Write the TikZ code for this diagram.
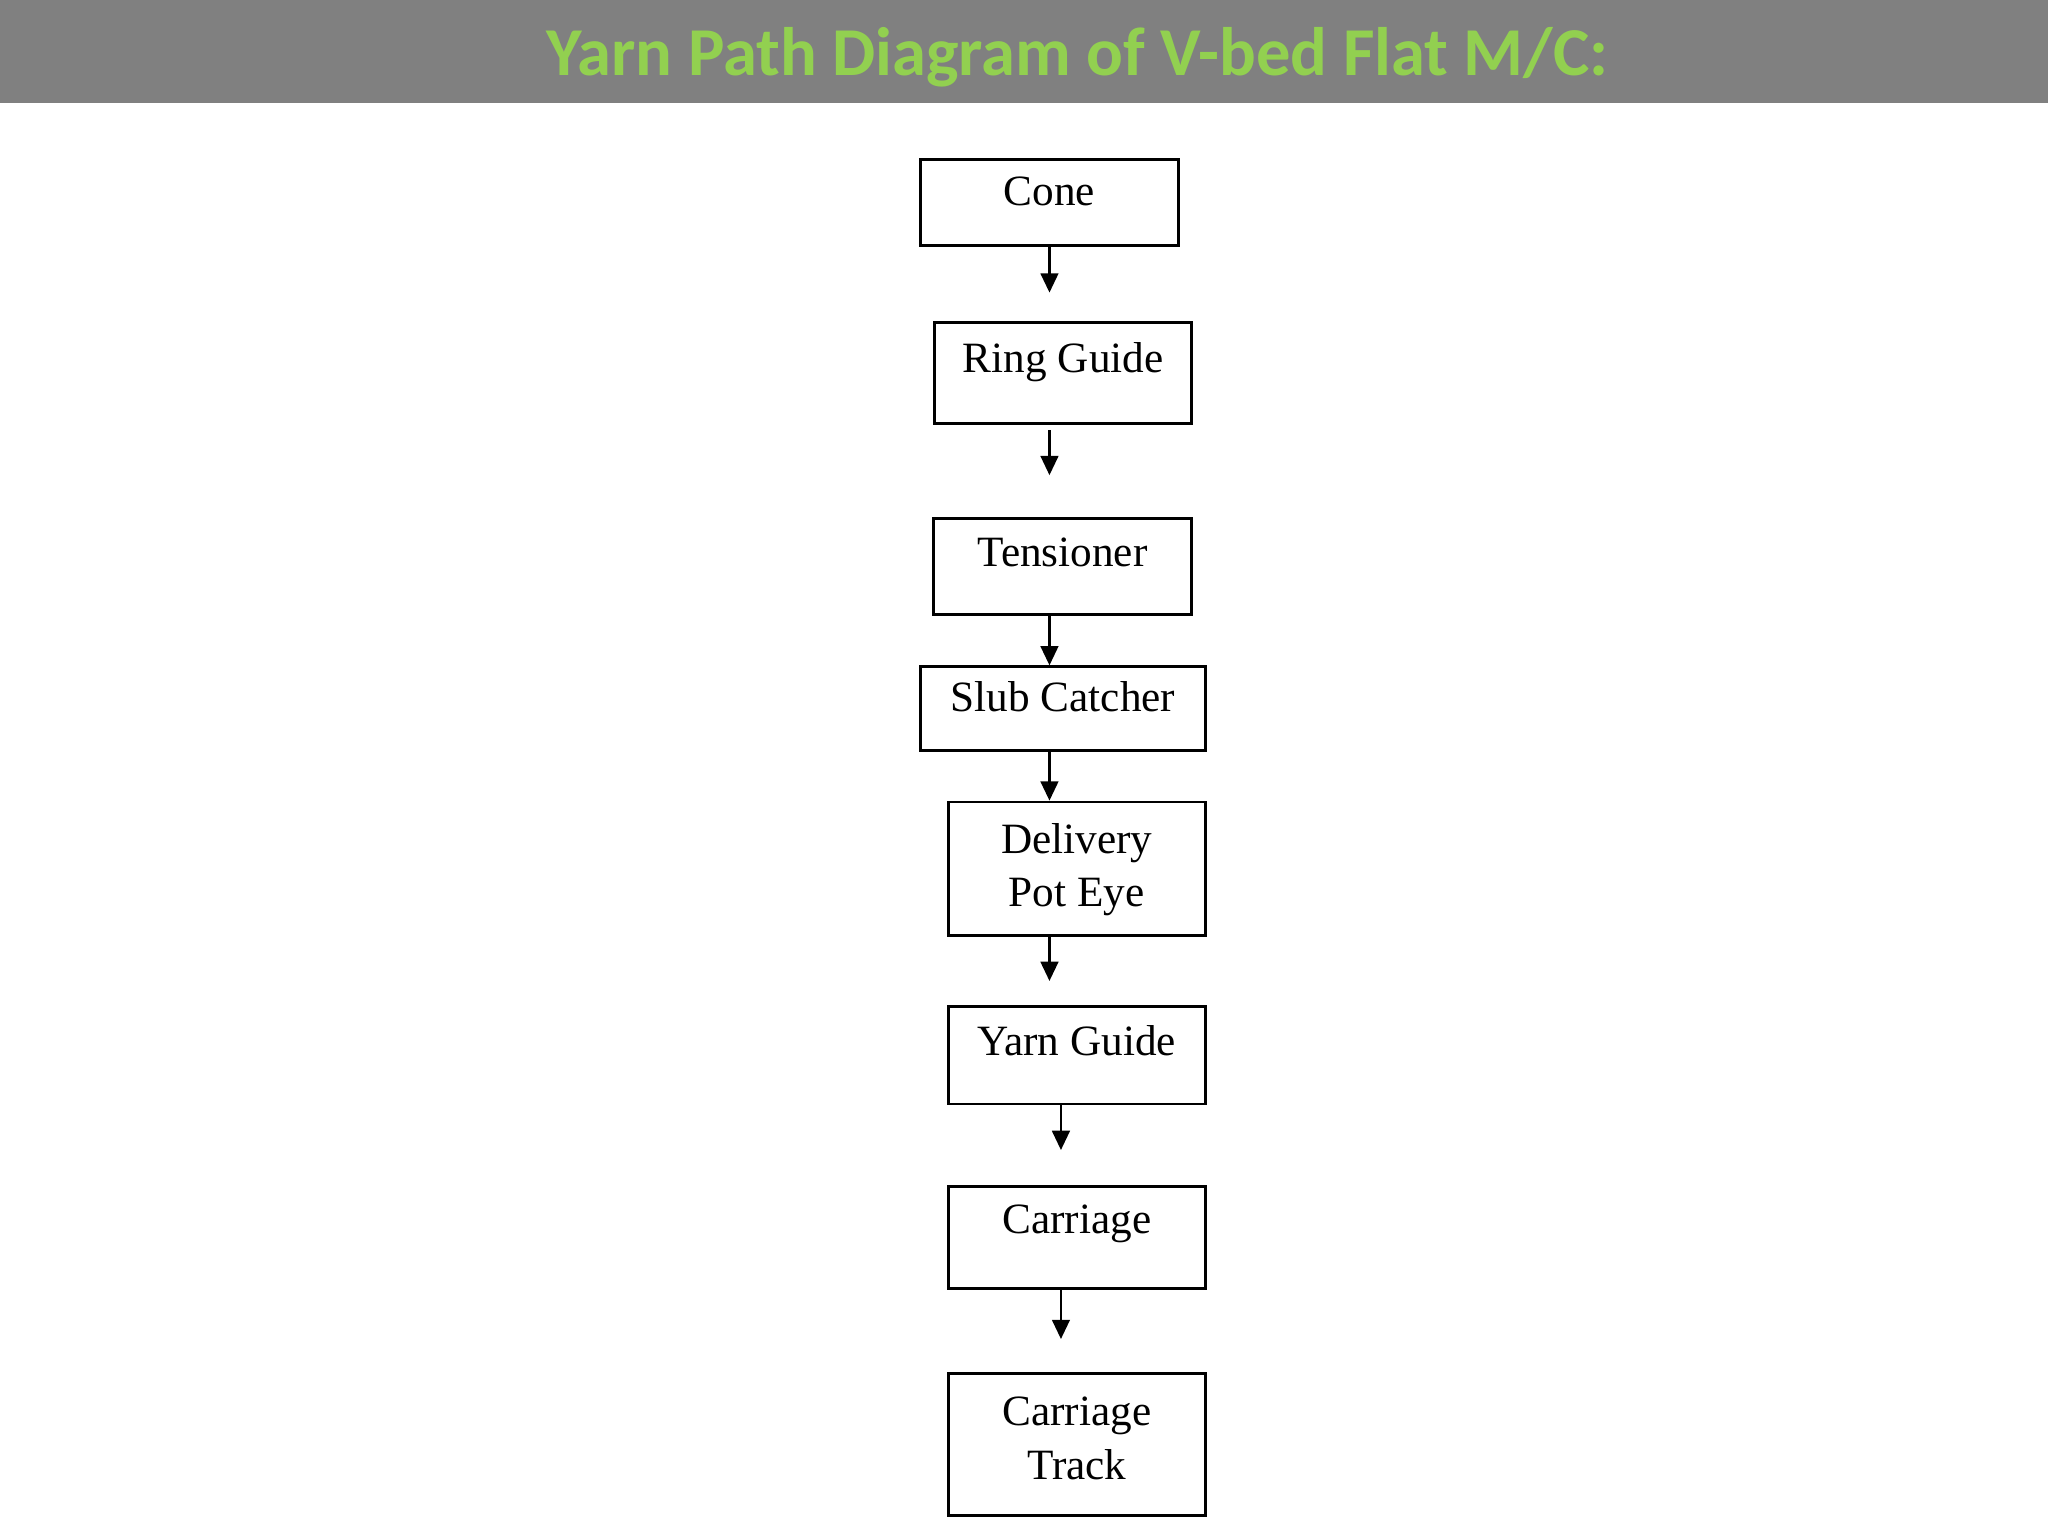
\documentclass[tikz,border=0pt]{standalone}
\usepackage{fontspec}
\setmainfont{Liberation Serif}
\newfontfamily\titlefont{Carlito}
\usetikzlibrary{arrows.meta}
\definecolor{bandgray}{HTML}{808080}
\definecolor{titlegreen}{HTML}{92D050}
\tikzset{
  stage/.style={draw, line width=0.8pt, inner xsep=0pt, inner ysep=0pt, align=center, anchor=base,
    font=\fontsize{12.3}{15.2}\selectfont},
  flow/.style={-{Triangle[length=5.5pt,width=5pt]}, line width=0.8pt}
}
\begin{document}
\begin{tikzpicture}[x=0.013061cm, y=-0.013061cm]
  \useasboundingbox (0,0) rectangle (1568,1176);
  \fill[bandgray] (0,0) rectangle (1568,79);
  \node[anchor=base, text=titlegreen, font=\titlefont\fontsize{19.5}{23}\selectfont\bfseries] (title) at (825,58) {Yarn Path Diagram of V-bed Flat M/C:};

  \node[stage, minimum width=73.2pt, text height=13pt, text depth=11.5pt] (cone) at (803.5,157) {Cone};
  \node[stage, minimum width=73.2pt, text height=14.2pt, text depth=14.5pt] (ring) at (814,285.4) {Ring Guide};
  \node[stage, minimum width=73.2pt, text height=13.6pt, text depth=13.6pt] (tens) at (813.5,433.8) {Tensioner};
  \node[stage, minimum width=80.9pt, text height=12.7pt, text depth=11pt] (slub) at (813.9,544.7) {Slub Catcher};
  \node[stage, minimum width=73.1pt, text height=29.7pt, text depth=8.2pt] (deliv) at (824.4,694) {Delivery\\Pot Eye};
  \node[stage, minimum width=73.1pt, text height=14pt, text depth=13.7pt] (yarn) at (824.4,808.4) {Yarn Guide};
  \node[stage, minimum width=73.1pt, text height=13.3pt, text depth=15.8pt] (carr) at (824.4,944.3) {Carriage};
  \node[stage, minimum width=73.1pt, text height=30pt, text depth=10.3pt] (track) at (824.4,1132.6) {Carriage\\Track};

  \draw[flow, shorten >=8.2pt] (cone.south) -- (cone.south |- ring.north);
  \draw[flow, shorten <=1.5pt, shorten >=12pt] (cone.south |- ring.south) -- (cone.south |- tens.north);
  \draw[flow] (cone.south |- tens.south) -- (cone.south |- slub.north);
  \draw[flow] (cone.south |- slub.south) -- (cone.south |- deliv.north);
  \draw[flow, shorten >=6.9pt] (cone.south |- deliv.south) -- (cone.south |- yarn.north);
  \draw[flow, shorten >=10pt] ([xshift=-4.5pt]yarn.south) -- ([xshift=-4.5pt]yarn.south |- carr.north);
  \draw[flow, shorten >=9.5pt] ([xshift=-4.5pt]carr.south) -- ([xshift=-4.5pt]carr.south |- track.north);
\end{tikzpicture}
\end{document}
